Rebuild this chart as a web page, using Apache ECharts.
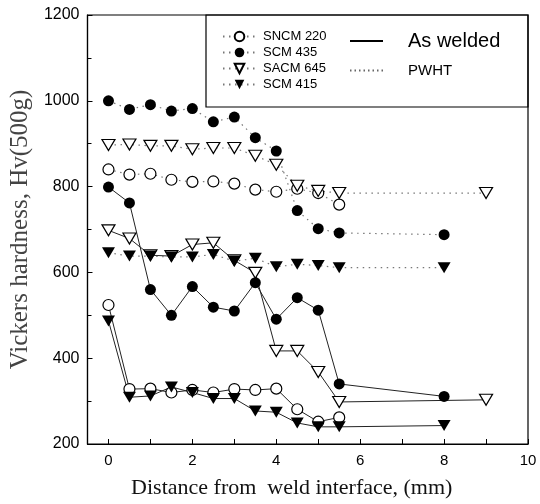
<!DOCTYPE html>
<html lang="en">
<head>
    <meta charset="UTF-8">
    <title>Vickers hardness</title>
    <script type="text/javascript" src="https://cdn.jsdelivr.net/npm/echarts@6/dist/echarts.min.js"></script>
</head>
<style>
    html, body {
        margin: 0;
        padding: 0;
        background-color: #fff;
    }
    #chart {
        width: 540px;
        height: 504px;
    }
</style>
<body>
<div id="chart"></div>
</body>
<script>
    // distance from weld interface (mm)
    var xMain = [0, 0.5, 1, 1.5, 2, 2.5, 3, 3.5, 4, 4.5, 5, 5.5]

    // PWHT (dotted)
    var sncm220Pwht = [840, 828, 830, 816, 811, 812, 807, 793, 788, 795, 785, 758]
    var scm435Pwht = [1000, 980, 991, 976, 982, 951, 962, 914, 883, 744, 702, 692, 688]
    var sacm645Pwht = [897, 898, 895, 895, 887, 890, 890, 872, 851, 802, 790, 785, 785]
    var scm415Pwht = [646, 638, 638, 636, 636, 642, 626, 633, 613, 619, 616, 611, 611]

    // As welded (solid)
    var sncm220Aw = [524, 328, 329, 320, 326, 320, 328, 326, 329, 281, 252, 262]
    var scm435Aw = [799, 762, 560, 500, 567, 519, 510, 576, 491, 541, 512, 340, 311]
    var sacm645Aw = [698, 679, 640, 638, 665, 669, 628, 599, 417, 417, 368, 298, 303]
    var scm415Aw = [487, 309, 312, 333, 320, 306, 306, 277, 274, 249, 240, 240, 243]

    // extra far points
    var xScm = 8
    var xSacm = 9

    var xLabels = [0, 2, 4, 6, 8, 10]
    var xTicks = [0, 1, 2, 3, 4, 5, 6, 7, 8, 9, 10]

    function pairs(ys, extraX) {
        var out = []
        for (var i = 0; i < ys.length; i++) {
            var x = i < xMain.length ? xMain[i] : extraX
            out.push([x, ys[i]])
        }
        return out
    }

    var openCircle = {symbol: 'circle', symbolSize: 11, itemStyle: {color: '#fff', borderColor: '#000', borderWidth: 1.2}}
    var fullCircle = {symbol: 'circle', symbolSize: 11, itemStyle: {color: '#000', borderColor: '#000', borderWidth: 0}}
    var openTri = {symbol: 'triangle', symbolRotate: 180, symbolSize: [13, 11], itemStyle: {color: '#fff', borderColor: '#000', borderWidth: 1.2}}
    var fullTri = {symbol: 'triangle', symbolRotate: 180, symbolSize: [13, 11], itemStyle: {color: '#000', borderColor: '#000', borderWidth: 0}}

    var dotted = {color: '#777', width: 1.2, type: [1.5, 4.5]}
    var solid = {color: '#222', width: 1}

    function mk(name, data, marker, line) {
        var s = {
            name: name,
            type: 'line',
            data: data,
            symbol: marker.symbol,
            symbolSize: marker.symbolSize,
            itemStyle: marker.itemStyle,
            lineStyle: line,
            showAllSymbol: true,
            animation: false,
            emphasis: {disabled: true}
        }
        if (marker.symbolRotate) s.symbolRotate = marker.symbolRotate
        return s
    }

    var myChart = echarts.init(document.getElementById('chart'))

    var option = {
        animation: false,
        grid: {
            left: 86,
            right: 12,
            top: 15,
            bottom: 59,
            show: true,
            borderColor: '#000',
            borderWidth: 1.2
        },
        xAxis: {
            type: 'value',
            min: -0.5,
            max: 10,
            name: 'Distance from  weld interface, (mm)',
            nameLocation: 'middle',
            nameGap: 33,
            nameTextStyle: {fontFamily: 'Liberation Serif', fontSize: 22, color: '#111', padding: [0, 32, 0, 0]},
            axisLine: {show: true, onZero: false, lineStyle: {color: '#000', width: 1.2}},
            axisTick: {show: true, inside: true, length: 5, customValues: xTicks, lineStyle: {color: '#000'}},
            axisLabel: {customValues: xLabels, fontFamily: 'Liberation Sans', fontSize: 15, color: '#000', margin: 9},
            splitLine: {show: false}
        },
        yAxis: {
            type: 'value',
            min: 200,
            max: 1200,
            interval: 200,
            name: 'Vickers hardness, Hv(500g)',
            nameLocation: 'middle',
            nameGap: 54,
            nameTextStyle: {fontFamily: 'Liberation Serif', fontSize: 25, color: '#444'},
            axisLine: {show: true, onZero: false, lineStyle: {color: '#000', width: 1.2}},
            axisTick: {show: true, inside: true, length: 5, lineStyle: {color: '#000'}},
            minorTick: {show: true, splitNumber: 2, length: 4, lineStyle: {color: '#000'}},
            axisLabel: {
                fontFamily: 'Liberation Sans', fontSize: 16, color: '#000', margin: 8,
                formatter: function (v) { return String(v) }
            },
            splitLine: {show: false}
        },
        legend: [
            {
                orient: 'vertical',
                left: 217,
                top: 25,
                itemWidth: 33,
                itemHeight: 12,
                itemGap: 3,
                selectedMode: false,
                textStyle: {fontFamily: 'Liberation Sans', fontSize: 13, color: '#000', padding: [0, 0, 0, 2]},
                data: ['SNCM 220', 'SCM 435', 'SACM 645', 'SCM 415']
            },
            {
                orient: 'vertical',
                left: 344,
                top: 26,
                itemWidth: 33,
                itemHeight: 10,
                itemGap: 12,
                selectedMode: false,
                textStyle: {fontFamily: 'Liberation Sans', color: '#000', padding: [0, 0, 0, 20]},
                data: [
                    {name: 'As welded', textStyle: {fontSize: 20}},
                    {name: 'PWHT', textStyle: {fontSize: 15}}
                ]
            }
        ],
        graphic: [
            {
                type: 'rect',
                shape: {x: 206, y: 15, width: 322, height: 92},
                style: {fill: 'none', stroke: '#000', lineWidth: 1.2},
                z: 100
            }
        ],
        series: [
            mk('SNCM 220', pairs(sncm220Pwht), openCircle, dotted),
            mk('SCM 435', pairs(scm435Pwht, xScm), fullCircle, dotted),
            mk('SACM 645', pairs(sacm645Pwht, xSacm), openTri, dotted),
            mk('SACM 645 aw', pairs(sacm645Aw, xSacm), openTri, solid),
            mk('SCM 415', pairs(scm415Pwht, xScm), fullTri, dotted),
            mk('SCM 435 aw', pairs(scm435Aw, xScm), fullCircle, solid),
            mk('SNCM 220 aw', pairs(sncm220Aw), openCircle, solid),
            mk('SCM 415 aw', pairs(scm415Aw, xScm), fullTri, solid),
            {name: 'As welded', type: 'line', data: [], symbol: 'none',
                itemStyle: {color: 'rgba(0,0,0,0)'}, lineStyle: {color: '#000', width: 1}},
            {name: 'PWHT', type: 'line', data: [], symbol: 'none',
                itemStyle: {color: 'rgba(0,0,0,0)'}, lineStyle: {color: '#666', width: 1.2, type: [1.5, 3]}}
        ]
    }

    myChart.setOption(option)
</script>
</html>
